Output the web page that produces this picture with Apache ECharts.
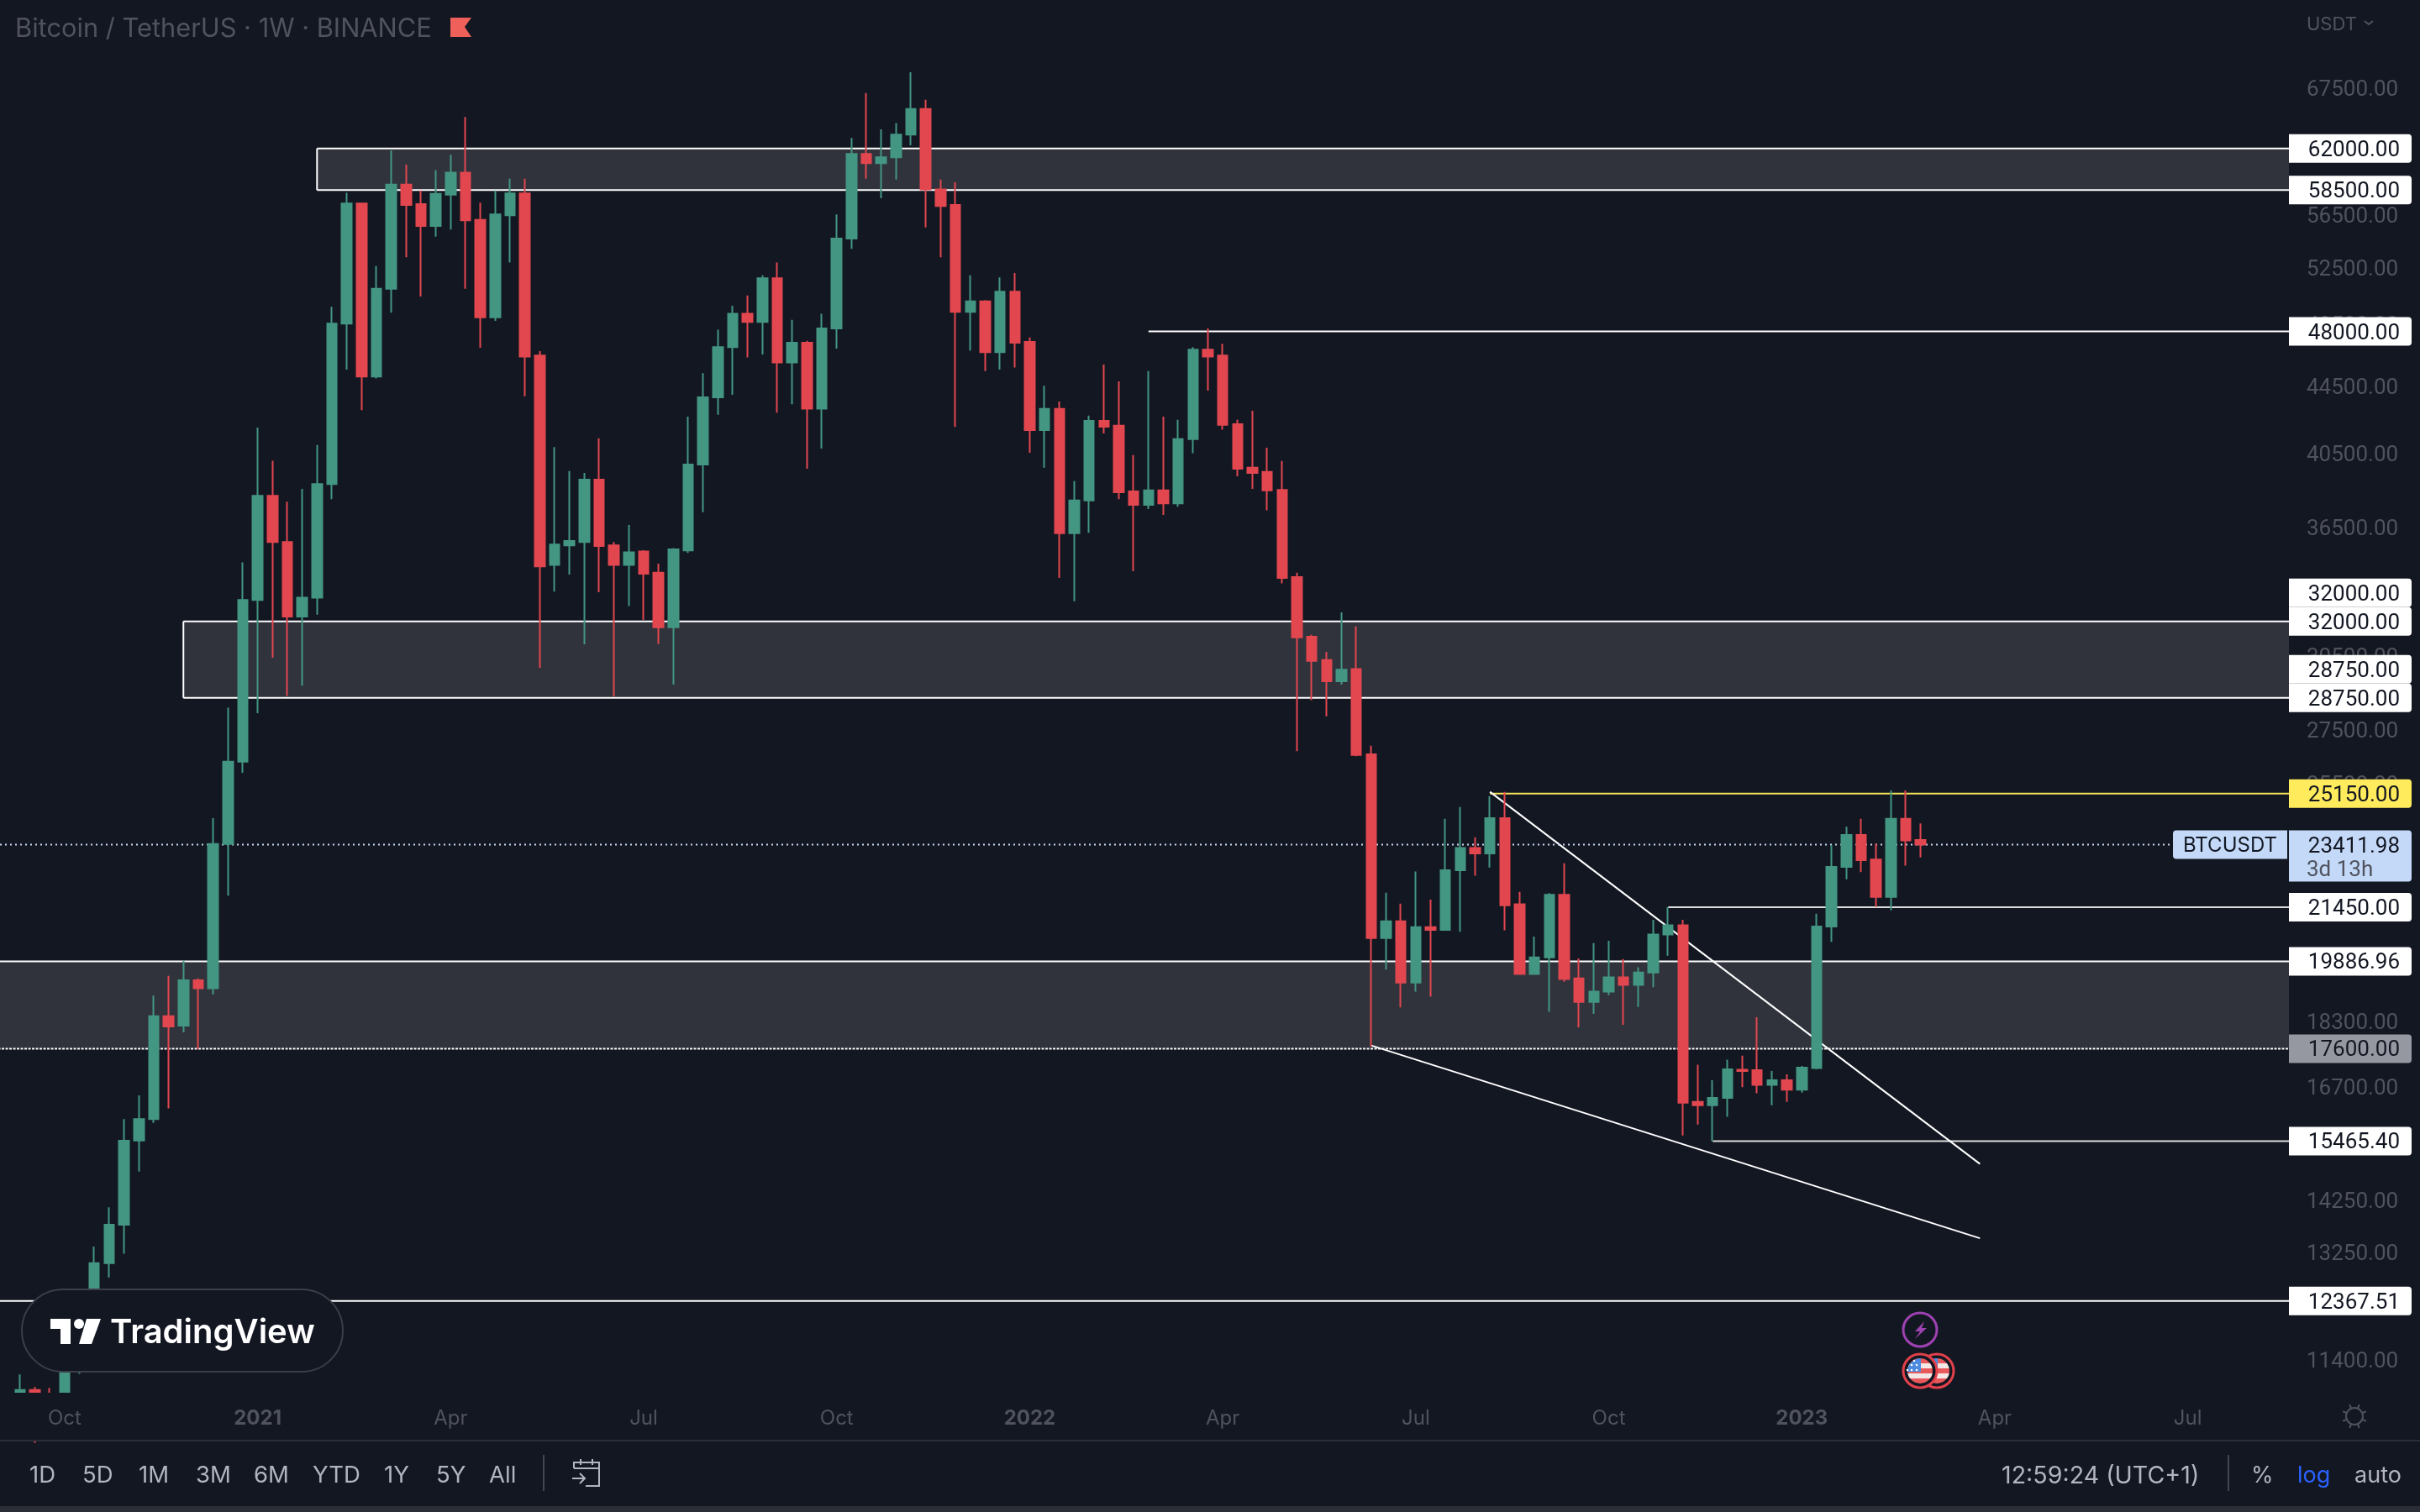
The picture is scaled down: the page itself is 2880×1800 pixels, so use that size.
<!DOCTYPE html>
<html>
<head>
<meta charset="utf-8">
<title>BTCUSDT 1W</title>
<script src="https://cdn.jsdelivr.net/npm/echarts@6/dist/echarts.min.js"></script>
<style>
  html, body { margin: 0; padding: 0; background: #131722; }
  #main { width: 2880px; height: 1800px; }
</style>
</head>
<body>
<div id="main"></div>
<script>
// weekly candles (array position = week number)
var opens = [
  10320,10920,10780,10670,11370, 11495,13040,13760,15480,15950,
  18417,18177,19368,19155,23432, 26292,32966,38145,35756,32209,
  33081,38775,48531,57407,45065, 50960,58940,57367,55638,58115,
  59937,56105,48960,56470,58233, 46410,34623,35590,35756,39011,
  35590,34623,35290,34250,31738, 35340,39851,43774,46957,49201,
  48651,51711,45962,47246,43084, 48209,54656,61538,60738,61243,
  63221,65516,58547,57288,49339, 50060,46635,50750,47310,41810,
  43076,36198,37896,42355,42070, 38380,37666,38430,37745,41285,
  46800,46410,42160,39673,39440, 38460,34045,31320,30315,29430,
  29930,26565,20543,21036,19305, 20863,20780,22590,23305,23130,
  24300,21540,19540,19996,21830, 19420,18790,19060,19450,19240,
  19580,20650,20920,16340,16260, 16430,17090,17080,16730,16840,
  16620,17130,20880,22700,23730, 22930,21760,24275,23570
];
var closes = [
  10920,10780,10670,11370,11495, 13040,13758,15473,15950,18417,
  18155,19368,19155,23432,26292, 32966,38145,35756,32209,33081,
  38775,48531,57407,45065,50960, 58940,57288,55638,58193,59937,
  56070,48960,56541,58233,46347, 34553,35633,35805,39011,35560,
  34623,35241,34205,31738,35388, 39851,43774,46957,49201,48651,
  51711,45962,47246,43084,48209, 54656,61538,60738,61243,63221,
  65516,58547,57210,49339,50060, 46635,50750,47246,41810,43076,
  36198,37896,42355,42017,38332, 37666,38430,37745,41285,46800,
  46347,42128,39615,39380,38430, 34000,31292,30274,29430,29909,
  26542,20543,21036,19305,20863, 20780,22590,23305,23130,24300,
  21510,19540,19996,21830,19400, 18790,19060,19450,19240,19580,
  20650,20920,16320,16260,16430, 17100,17060,16730,16840,16620,
  17140,20880,22700,23730,22910, 21760,24275,23550,23411.98
];
var lows = [
  10240,10140,10370,10530,11170, 11400,12780,13210,14820,15865,
  16190,18005,17590,18990,21800, 25890,28146,30409,28827,29247,
  32295,37962,45510,42993,44945, 49270,53258,50405,54803,55360,
  50960,46924,48720,52854,43834, 29988,33356,34160,30987,33335,
  28806,32691,32061,31010,29287, 35217,37279,42723,43925,46282,
  46474,42844,43354,39615,40751, 46860,53884,59433,57840,59360,
  62280,55519,53258,42000,46732, 45416,45510,45640,40511,39673,
  34000,32915,36220,41620,37962, 34320,37437,37130,37565,40480,
  44195,41840,39195,38512,37380, 33745,26686,28662,28017,29287,
  26500,17650,19660,18650,19060, 18930,20770,20730,22420,22680,
  20770,19540,19520,18530,19330, 18135,18480,18970,18200,18660,
  19180,20045,15590,15830,15465.4, 16000,16680,16534,16260,16340,
  16550,17100,20440,22310,22530, 21460,21360,22740,23000
];
var highs = [
  11160,10965,10950,11490,11720, 13343,14100,15950,16490,18955,
  19488,19902,19420,24300,28360, 34755,41960,40060,37830,38512,
  40948,49683,58272,57485,52600, 61832,60610,58470,60150,61452,
  64800,57485,58470,59433,59433, 46700,40835,39490,39380,41340,
  35756,36615,35350,34690,35450, 42604,45276,48113,49751,50473,
  51920,52854,48791,47370,49201, 56541,62926,67000,63684,64255,
  68978,66370,59360,59137,51920, 50160,51770,52092,47599,44495,
  43516,38930,42670,45832,44765, 40380,45410,42604,42417,46960,
  48209,47180,42417,42960,40790, 40050,34250,31400,30664,32406,
  31770,26890,21890,21560,22550, 21680,24275,24680,23660,25060,
  25210,21920,20590,21880,22810, 19970,20400,20470,19950,19725,
  21080,21450,21080,17210,16840, 17330,17430,18393,17060,16980,
  17180,21260,23400,24010,24275, 23450,25260,25260,24120
];

// axis ticks
var timeTickWeeks = [3,16,29,42,55,68,81,94,107,120,133,146];
var timeTickLabels = ['Oct','2021','Apr','Jul','Oct','2022','Apr','Jul','Oct','2023','Apr','Jul'];
var priceTicks = [67500,56500,52500,48500,44500,40500,36500,30500,27500,25500,18300,16700,14250,13250,11400];

// drawings: grey zones, horizontal levels, trend lines
var zoneTops = [62000,32000,19886.96];
var zoneBottoms = [58500,28750,17600];
var zoneStarts = [20,11,-2];
var levelValues = [48000,25150,21450,15465.4,12367.51];
var levelStarts = [76,99,111,114,-2];
var trendStartWeeks = [99,91];
var trendStartPrices = [25210,17680];
var trendEndWeeks = [132,132];
var trendEndPrices = [14980,13500];

// price tags on the right
var tagValues = [62000,58500,48000,32000,32000,28750,28750,25150,21450,19886.96,17600,15465.4,12367.51];
var lastPrice = 23411.98;

var BG = '#131722';
var AXIS_TEXT = '#50535e';
var FONT = 'Inter';
var NUM_FONT = 'Roboto';

var xMin = -1.3526, xMax = 152.81;
var yMin = 10877, yMax = 76315;

var candleData = opens.map(function (o, i) {
  return [i, o, closes[i], lows[i], highs[i]];
});
var zoneData = zoneTops.map(function (t, i) { return [zoneStarts[i], t, zoneBottoms[i]]; });
var levelData = levelValues.map(function (v, i) { return [levelStarts[i], v]; });
var trendData = trendStartWeeks.map(function (w, i) {
  return [w, trendStartPrices[i], trendEndWeeks[i], trendEndPrices[i]];
});

function levelColor(v) {
  if (v === 25150) return '#f5e35a';
  if (v === 21450 || v === 15465.4) return '#dcdcdc';
  return '#ffffff';
}
function tagColor(v) {
  if (v === 25150) return '#ffeb5b';
  if (v === 17600) return '#9598a1';
  return '#ffffff';
}

function renderZone(params, api) {
  var g = params.coordSys;
  var right = g.x + g.width;
  var a = api.coord([api.value(0), api.value(1)]);
  var b = api.coord([api.value(0), api.value(2)]);
  var line = { stroke: '#ffffff', lineWidth: 2, fill: null };
  var kids = [
    { type: 'rect', shape: { x: a[0], y: a[1], width: right - a[0], height: b[1] - a[1] }, style: { fill: '#30333c' } },
    { type: 'line', shape: { x1: a[0], y1: a[1], x2: right, y2: a[1] }, style: line },
    { type: 'line', shape: { x1: a[0], y1: a[1], x2: a[0], y2: b[1] }, style: line }
  ];
  // the lowest zone's floor sits under a dotted line in the original
  var bottom = params.dataIndex === 2 ? { stroke: '#ffffff', lineWidth: 2, lineDash: [3, 1.5], fill: null } : line;
  kids.push({ type: 'line', shape: { x1: a[0], y1: b[1], x2: right, y2: b[1] }, style: bottom });
  return { type: 'group', children: kids };
}

function renderLevel(params, api) {
  var g = params.coordSys;
  var p = api.coord([api.value(0), api.value(1)]);
  return {
    type: 'line',
    shape: { x1: p[0], y1: p[1], x2: g.x + g.width, y2: p[1] },
    style: { stroke: levelColor(api.value(1)), lineWidth: 2, fill: null }
  };
}

function renderTrend(params, api) {
  var a = api.coord([api.value(0), api.value(1)]);
  var b = api.coord([api.value(2), api.value(3)]);
  return {
    type: 'line',
    shape: { x1: a[0], y1: a[1], x2: b[0], y2: b[1] },
    style: { stroke: '#ffffff', lineWidth: 2, fill: null }
  };
}

function renderPriceLine(params, api) {
  var g = params.coordSys;
  var p = api.coord([xMin, api.value(0)]);
  return {
    type: 'line',
    shape: { x1: g.x, y1: p[1], x2: g.x + g.width, y2: p[1] },
    style: { stroke: '#c9d9f2', lineWidth: 2, lineDash: [2, 4], fill: null }
  };
}

function renderTag(params, api) {
  var g = params.coordSys;
  var v = api.value(0);
  var p = api.coord([xMin, v]);
  var y = p[1];
  // two tags on one price: the first one is pushed up a row, as on the original
  if (tagValues[params.dataIndex + 1] === v) y -= 34;
  var left = g.x + g.width;
  return {
    type: 'group',
    children: [
      { type: 'rect', shape: { x: left, y: y - 17, width: 146, height: 34, r: [0, 4, 4, 0] }, style: { fill: tagColor(v) } },
      { type: 'text', style: { text: v.toFixed(2), x: left + 132, y: y + 2.5, align: 'right', verticalAlign: 'middle', fill: '#131722', font: '26px ' + NUM_FONT } }
    ]
  };
}

function renderLastPrice(params, api) {
  var g = params.coordSys;
  var v = api.value(0);
  var y = api.coord([xMin, v])[1];
  var left = g.x + g.width;
  return {
    type: 'group',
    children: [
      { type: 'rect', shape: { x: left - 138, y: y - 17, width: 136, height: 34, r: [4, 0, 0, 4] }, style: { fill: '#c3d9f7' } },
      { type: 'text', style: { text: 'BTCUSDT', x: left - 70, y: y + 1, align: 'center', verticalAlign: 'middle', fill: '#131722', font: '24px ' + FONT } },
      { type: 'rect', shape: { x: left, y: y - 17, width: 146, height: 61, r: [0, 4, 4, 0] }, style: { fill: '#c3d9f7' } },
      { type: 'text', style: { text: v.toFixed(2), x: left + 132, y: y + 2.5, align: 'right', verticalAlign: 'middle', fill: '#131722', font: '26px ' + NUM_FONT } },
      { type: 'text', style: { text: '3d 13h', x: left + 21, y: y + 31, align: 'left', verticalAlign: 'middle', fill: '#50535e', font: '26px ' + NUM_FONT } }
    ]
  };
}

// decoration around the plot, fixed pixels like the app's own chrome
function txt(text, x, y, font, fill, align) {
  return { type: 'text', z: 100, style: { text: text, x: x, y: y, font: font, fill: fill, align: align || 'left', verticalAlign: 'middle' } };
}
function seg(x1, y1, x2, y2, color, w) {
  return { type: 'line', z: 100, shape: { x1: x1, y1: y1, x2: x2, y2: y2 }, style: { stroke: color, lineWidth: w, fill: null } };
}

var chrome = [];

// candles below the pane are hidden, the time axis strip covers them
chrome.push({ type: 'rect', z: 3, shape: { x: 0, y: 1658, width: 2880, height: 57 }, style: { fill: BG } });

// header
chrome.push(txt('Bitcoin / TetherUS \u00b7 1W \u00b7 BINANCE', 18, 35, '400 30.8px ' + FONT, '#50535e'));
chrome.push({ type: 'polygon', z: 100, shape: { points: [[536, 21], [561, 21], [553, 32], [561, 44], [536, 44]] }, style: { fill: '#f0605a' } });
chrome.push(txt('USDT', 2745, 29, '22px ' + FONT, AXIS_TEXT));
chrome.push({ type: 'polyline', z: 100, shape: { points: [[2814, 25], [2819, 29], [2824, 25]] }, style: { stroke: AXIS_TEXT, lineWidth: 2, fill: null } });

// TradingView badge
chrome.push({ type: 'rect', z: 100, shape: { x: 26, y: 1535, width: 382, height: 98, r: 49 }, style: { fill: BG, stroke: '#3b3e49', lineWidth: 2 } });
chrome.push({ type: 'polygon', z: 101, shape: { points: [[60, 1570], [84, 1570], [84, 1600], [72, 1600], [72, 1582], [60, 1582]] }, style: { fill: '#ffffff' } });
chrome.push({ type: 'circle', z: 101, shape: { cx: 94, cy: 1576, r: 6 }, style: { fill: '#ffffff' } });
chrome.push({ type: 'polygon', z: 101, shape: { points: [[103, 1570], [120, 1570], [109, 1600], [94, 1600]] }, style: { fill: '#ffffff' } });
chrome.push(txt('TradingView', 131, 1587, '600 40px ' + FONT, '#ffffff'));

// event badges over the last candle
chrome.push({ type: 'circle', z: 100, shape: { cx: 2285, cy: 1583, r: 20 }, style: { fill: BG, stroke: '#9c42b1', lineWidth: 3 } });
chrome.push({ type: 'polygon', z: 101, shape: { points: [[2290, 1573], [2279, 1585], [2285, 1585], [2279, 1594], [2293, 1581], [2287, 1581]] }, style: { fill: '#9c42b1' } });
function flag(cx, cy) {
  var stripes = [];
  var cols = ['#e8595c', '#e8595c', '#f3e6e6', '#f3e6e6', '#e8595c', '#e8595c', '#f3e6e6', '#f3e6e6', '#e8595c', '#e8595c'];
  var stops = [0, .2, .2, .4, .4, .6, .6, .8, .8, 1];
  stops.forEach(function (s, i) { stripes.push({ offset: s, color: cols[i] }); });
  chrome.push({ type: 'circle', z: 100, shape: { cx: cx, cy: cy, r: 20 }, style: { fill: '#131722', stroke: '#e2404a', lineWidth: 3 } });
  chrome.push({ type: 'circle', z: 100, shape: { cx: cx, cy: cy, r: 15 }, style: { fill: { type: 'linear', x: 0, y: 0, x2: 0, y2: 1, colorStops: stripes } } });
  chrome.push({ type: 'sector', z: 100, shape: { cx: cx + 1, cy: cy + 1, r: 16, startAngle: Math.PI, endAngle: Math.PI * 1.5 }, style: { fill: '#4b8be0' } });
}
flag(2305, 1632);
flag(2285, 1632);
[[2275, 1625], [2281, 1625], [2275, 1631], [2281, 1631], [2270, 1631], [2278, 1620]].forEach(function (s) {
  chrome.push({ type: 'circle', z: 101, shape: { cx: s[0], cy: s[1], r: 1.3 }, style: { fill: '#ffffff' } });
});

// gear
chrome.push({ type: 'circle', z: 100, shape: { cx: 2802, cy: 1686, r: 10 }, style: { fill: null, stroke: AXIS_TEXT, lineWidth: 2 } });
[0, 1, 2, 3, 4, 5, 6, 7].forEach(function (k) {
  var a = k * Math.PI / 4 + Math.PI / 8;
  chrome.push(seg(2802 + Math.cos(a) * 10, 1686 + Math.sin(a) * 10, 2802 + Math.cos(a) * 15, 1686 + Math.sin(a) * 15, AXIS_TEXT, 2));
});

// bottom toolbar
chrome.push(seg(0, 1715, 2880, 1715, '#2a2e39', 2));
chrome.push({ type: 'rect', z: 100, shape: { x: 0, y: 1793, width: 2880, height: 7 }, style: { fill: '#2a2d36' } });
var rangeNames = ['1D', '5D', '1M', '3M', '6M', 'YTD', '1Y', '5Y', 'All'];
var rangeX = [35, 98, 165, 233, 302, 372, 457, 519, 582];
rangeNames.forEach(function (n, i) {
  chrome.push(txt(n, rangeX[i], 1757, '27.5px ' + FONT, '#b2b5be'));
});
chrome.push(seg(647, 1732, 647, 1775, '#434651', 2));
chrome.push({ type: 'polyline', z: 100, shape: { points: [[683, 1748], [683, 1741], [713, 1741], [713, 1769], [697, 1769]] }, style: { stroke: '#b2b5be', lineWidth: 2, fill: null } });
chrome.push(seg(683, 1748, 713, 1748, '#b2b5be', 2));
chrome.push(seg(691, 1737, 691, 1744, '#b2b5be', 2));
chrome.push(seg(705, 1737, 705, 1744, '#b2b5be', 2));
chrome.push(seg(681, 1760, 695, 1760, '#b2b5be', 2));
chrome.push({ type: 'polyline', z: 100, shape: { points: [[690, 1754], [696, 1760], [690, 1766]] }, style: { stroke: '#b2b5be', lineWidth: 2, fill: null } });
chrome.push(txt('12:59:24 (UTC+1)', 2382, 1757, '28.6px ' + FONT, '#b2b5be'));
chrome.push(seg(2652, 1732, 2652, 1775, '#434651', 2));
chrome.push(txt('%', 2679, 1757, '27px ' + FONT, '#b2b5be'));
chrome.push(txt('log', 2734, 1757, '27px ' + FONT, '#2962ff'));
chrome.push(txt('auto', 2802, 1757, '27px ' + FONT, '#b2b5be'));

var myChart = echarts.init(document.getElementById('main'));

var option = {
  animation: false,
  backgroundColor: BG,
  grid: { left: 0, right: 156, top: 0, bottom: 142 },
  // x axis counts weeks from the first candle
  xAxis: {
    type: 'value',
    z: 10,
    min: xMin,
    max: xMax,
    axisLine: { show: false },
    axisTick: { show: false },
    splitLine: { show: false },
    axisLabel: {
      customValues: timeTickWeeks,
      margin: 19,
      color: AXIS_TEXT,
      fontFamily: FONT,
      fontSize: 24,
      formatter: function (v) {
        var s = timeTickLabels[timeTickWeeks.indexOf(v)];
        return /^\d+$/.test(s) ? '{y|' + s + '}' : s;
      },
      rich: { y: { fontWeight: 700, fontSize: 24, fontFamily: FONT, color: AXIS_TEXT } }
    }
  },
  yAxis: {
    type: 'log',
    position: 'right',
    min: yMin,
    max: yMax,
    axisLine: { show: false },
    axisTick: { show: false },
    splitLine: { show: false },
    axisLabel: {
      customValues: priceTicks,
      margin: 21,
      color: AXIS_TEXT,
      align: 'left',
      formatter: function (v) { return '{n|' + Number(v).toFixed(2) + '}'; },
      // top padding nudges the digits down to the original's baseline
      rich: { n: { fontFamily: NUM_FONT, fontSize: 26, color: AXIS_TEXT, padding: [6, 0, 0, 0] } }
    }
  },
  graphic: { elements: chrome },
  series: [
    { type: 'custom', name: 'zones', z: 1, renderItem: renderZone, data: zoneData, encode: { x: 0, y: [1, 2] }, silent: true },
    { type: 'custom', name: 'levels', z: 1, renderItem: renderLevel, data: levelData, encode: { x: 0, y: 1 }, silent: true },
    { type: 'custom', name: 'trends', z: 1, renderItem: renderTrend, data: trendData, encode: { x: [0, 2], y: [1, 3] }, silent: true },
    { type: 'custom', name: 'priceLine', z: 1, renderItem: renderPriceLine, data: [[lastPrice]], encode: { y: 0 }, silent: true },
    {
      type: 'candlestick',
      name: 'BTCUSDT',
      z: 2,
      barWidth: 12,
      data: candleData,
      itemStyle: {
        color: '#439682',
        color0: '#e2474f',
        borderColor: '#439682',
        borderColor0: '#e2474f',
        borderWidth: 2
      }
    },
    { type: 'custom', name: 'tags', z: 5, renderItem: renderTag, data: tagValues.map(function (v) { return [v]; }), encode: { y: 0 }, silent: true },
    { type: 'custom', name: 'lastPrice', z: 5, renderItem: renderLastPrice, data: [[lastPrice]], encode: { y: 0 }, silent: true }
  ]
};

myChart.setOption(option);
</script>
</body>
</html>
